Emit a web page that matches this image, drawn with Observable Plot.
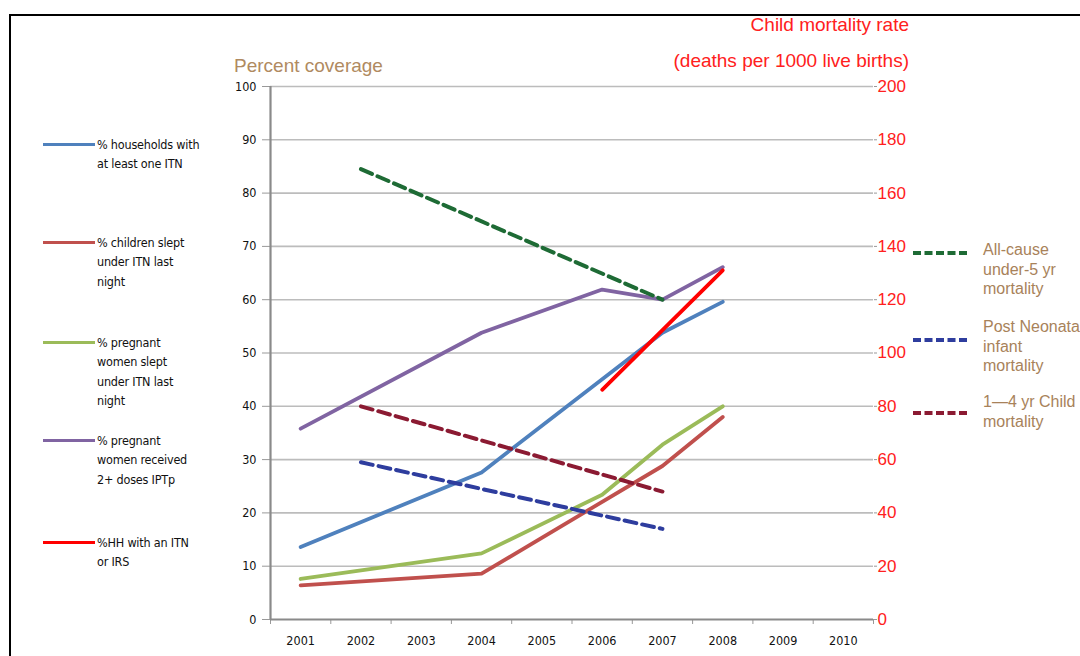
<!DOCTYPE html>
<html><head><meta charset="utf-8">
<script src="https://cdn.jsdelivr.net/npm/d3@7"></script>
<script src="https://cdn.jsdelivr.net/npm/@observablehq/plot@0.6"></script>
<style>
body{margin:0;background:#fff;width:1080px;height:656px;overflow:hidden;position:relative;font-family:"Liberation Sans",Arial,sans-serif}
#frame{position:absolute;left:9px;top:14px;width:1100px;height:700px;border:2px solid #000;box-sizing:border-box}
#chart{position:absolute;left:0;top:0}
.t{position:absolute;white-space:nowrap}
.lg{position:absolute;font-family:"Liberation Sans Narrow","DejaVu Sans Condensed",sans-serif;font-size:12.5px;line-height:19.3px;color:#111;letter-spacing:-0.2px}
.rg{position:absolute;font-family:"Liberation Sans",Arial,sans-serif;font-size:16px;line-height:19.5px;color:#a8825a;white-space:nowrap}
.sw{position:absolute;height:0}
</style></head>
<body>
<div id="frame"></div>
<div id="chart"></div>
<div id="overlay"></div>
<script>
// ---- data ----
const years = [2001, 2002, 2003, 2004, 2005, 2006, 2007, 2008, 2009, 2010];
const leftTicks = [0, 10, 20, 30, 40, 50, 60, 70, 80, 90, 100];

const hhItnYears = [2001, 2004, 2007, 2008];
const hhItnValues = [13.6, 27.6, 53.8, 59.6];
const childSleptYears = [2001, 2004, 2007, 2008];
const childSleptValues = [6.4, 8.6, 28.8, 38.0];
const pregSleptYears = [2001, 2004, 2006, 2007, 2008];
const pregSleptValues = [7.6, 12.4, 23.4, 32.8, 40.0];
const iptpYears = [2001, 2004, 2006, 2007, 2008];
const iptpValues = [35.8, 53.8, 61.9, 60.0, 66.1];
const itnIrsYears = [2006, 2008];
const itnIrsValues = [43.1, 65.5];

// mortality (deaths per 1000 live births, right axis)
const mortYears = [2002, 2007];
const under5Values = [169, 120];
const postNeoValues = [59, 34];
const child14Values = [80, 48];

const coverageLegend = [
  {color:"#4F81BD", lines:["% households with","at least one ITN"]},
  {color:"#C0504D", lines:["% children slept","under ITN last","night"]},
  {color:"#9BBB59", lines:["% pregnant","women slept","under ITN last","night"]},
  {color:"#8064A2", lines:["% pregnant","women received","2+ doses IPTp"]},
  {color:"#FF0000", lines:["%HH with an ITN","or IRS"]}
];
const mortalityLegend = [
  {color:"#1E6B35", lines:["All-cause","under-5 yr","mortality"]},
  {color:"#2E3D9E", lines:["Post Neonatal","infant","mortality"]},
  {color:"#8B1A32", lines:["1\u20144 yr Child","mortality"]}
];

// ---- build ----
const rows = (ys, vs) => ys.map((y, i) => ({year: y, value: vs[i]}));
const rateRows = (ys, vs) => ys.map((y, i) => ({year: y, value: vs[i] / 2})); // right axis is 2x left
const boundaries = d3.range(2000.5, 2011, 1);

const solid = {x: "year", y: "value", strokeWidth: 3.8, strokeLinejoin: "round"};
const dashed = {x: "year", y: "value", strokeWidth: 4, strokeDasharray: "12,6"};

const chart = Plot.plot({
  width: 1080, height: 656,
  marginLeft: 270, marginRight: 207, marginTop: 86, marginBottom: 37,
  x: {type: "linear", domain: [2000.5, 2010.5]},
  y: {domain: [0, 100]},
  style: {background: "transparent", fontFamily: "'Liberation Sans Narrow','DejaVu Sans Condensed',sans-serif", fontSize: "12.5px"},
  marks: [
    Plot.ruleY(leftTicks.slice(1), {stroke: "#bcbcbc", strokeWidth: 1.6, strokeOpacity: 1}),
    Plot.axisY({ticks: leftTicks, tickSize: 8, tickPadding: 6, stroke: "#999", strokeOpacity: 1, fill: "#111", label: null}),
    Plot.axisY({anchor: "right", ticks: leftTicks, tickFormat: d => String(d * 2), tickSize: 3, tickPadding: 1,
      stroke: "#999", strokeOpacity: 1, fill: "#ff2020", label: null,
      fontFamily: "'Liberation Sans',Arial,sans-serif", fontSize: 17}),
    Plot.axisX({ticks: years, tickFormat: d => String(d), tickSize: 0, tickPadding: 17, fill: "#111", label: null}),
    Plot.axisX({ticks: boundaries, tickFormat: () => "", tickSize: 5, stroke: "#999", strokeOpacity: 1, label: null}),
    Plot.ruleX([2000.5], {stroke: "#8a8a8a", strokeWidth: 2.2}),
    Plot.ruleY([0], {stroke: "#8a8a8a", strokeWidth: 2.2}),
    Plot.line(rows(iptpYears, iptpValues), {...solid, stroke: "#8064A2"}),
    Plot.line(rows(hhItnYears, hhItnValues), {...solid, stroke: "#4F81BD"}),
    Plot.line(rows(pregSleptYears, pregSleptValues), {...solid, stroke: "#9BBB59"}),
    Plot.line(rows(childSleptYears, childSleptValues), {...solid, stroke: "#C0504D"}),
    Plot.line(rateRows(mortYears, under5Values), {...dashed, stroke: "#1E6B35"}),
    Plot.line(rateRows(mortYears, child14Values), {...dashed, stroke: "#8B1A32"}),
    Plot.line(rateRows(mortYears, postNeoValues), {...dashed, stroke: "#2E3D9E"}),
    Plot.line(rows(itnIrsYears, itnIrsValues), {...solid, stroke: "#FF0000"})
  ]
});
document.getElementById("chart").appendChild(chart);

// ---- titles & legends (overlay) ----
const ov = document.getElementById("overlay");
function add(html, cls, css) {
  const d = document.createElement("div");
  d.className = cls; d.innerHTML = html;
  Object.assign(d.style, css);
  ov.appendChild(d);
  return d;
}
add("Percent coverage", "t", {left: "234px", top: "55px", fontSize: "19px", color: "#b08a60"});
add("Child mortality rate", "t", {right: "171px", top: "14px", fontSize: "19px", color: "#ff2020"});
add("(deaths per 1000 live births)", "t", {right: "171px", top: "50px", fontSize: "19px", color: "#ff2020"});

const leftTops = [145, 243, 343, 441, 543];
coverageLegend.forEach((it, i) => {
  add("", "sw", {left: "43px", width: "52px", top: (leftTops[i] - 1.7) + "px", borderTop: "3.5px solid " + it.color});
  add(it.lines.join("<br>"), "lg", {left: "97px", top: (leftTops[i] - 10) + "px"});
});
const rightTops = [253, 340, 413];
const rightTextTops = [250, 327, 402];
mortalityLegend.forEach((it, i) => {
  add("", "sw", {left: "913px", width: "54px", top: (rightTops[i] - 2) + "px", borderTop: "4px dashed " + it.color});
  add(it.lines.join("<br>"), "rg", {left: "983px", top: (rightTextTops[i] - 10) + "px"});
});
</script>
</body></html>
